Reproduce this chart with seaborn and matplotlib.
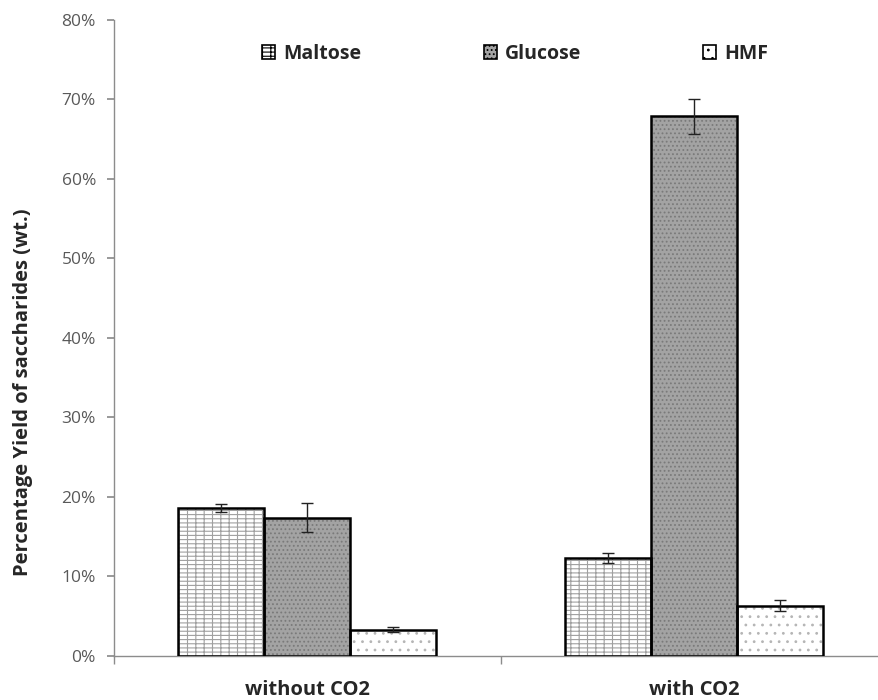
import matplotlib
matplotlib.use("Agg")
import matplotlib.pyplot as plt
import matplotlib.patches as mpatches
from matplotlib.ticker import PercentFormatter, FixedLocator
import seaborn as sns
import pandas as pd

# 데이터 (그림에서 읽은 값, %)
conditions = ["without CO2", "with CO2"]
products = ["Maltose", "Glucose", "HMF"]
maltose = [18.6, 12.3]
glucose = [17.4, 67.9]
hmf = [3.3, 6.3]
maltose_err = [0.55, 0.6]
glucose_err = [1.85, 2.2]
hmf_err = [0.3, 0.7]

# 막대 스타일 (face, hatch, hatch color)
styles = {
    "Maltose": ("white", "--++", "#a0a0a0"),
    "Glucose": ("#a3a3a3", "....", "#7a7a7a"),
    "HMF": ("white", "..", "#b5b5b5"),
}

sns.set_theme(style="white")
plt.rcParams['font.family'] = ['Open Sans', 'DejaVu Sans']
plt.rcParams['hatch.linewidth'] = 0.8

df = pd.DataFrame({
    "condition": conditions * 3,
    "product": [p for p in products for _ in conditions],
    "value": maltose + glucose + hmf,
    "err": maltose_err + glucose_err + hmf_err,
})

fig = plt.figure(figsize=(8.79, 7.0), dpi=100)
ax = fig.add_axes([0.1297, 0.0629, 0.8794, 0.9086])

sns.barplot(data=df, x="condition", y="value", hue="product", order=conditions,
            hue_order=products, width=0.668, gap=0, errorbar=None, legend=False, ax=ax)

handles = []
for cont, prod in zip(ax.containers, products):
    face, hatch, hcol = styles[prod]
    errs = df[df["product"] == prod].set_index("condition").loc[conditions, "err"].values
    for bar, e in zip(cont.patches, errs):
        bar.set_facecolor(face)
        bar.set_edgecolor(hcol)
        bar.set_hatch(hatch)
        bar.set_linewidth(0)
        ax.add_patch(mpatches.Rectangle(bar.get_xy(), bar.get_width(), bar.get_height(),
                                        fill=False, edgecolor="black", linewidth=1.8, zorder=3))
        cx = bar.get_x() + bar.get_width() / 2
        ax.errorbar(cx, bar.get_height(), yerr=e, color="#222222", elinewidth=1,
                    capsize=4, capthick=1, zorder=4)
    handles.append(mpatches.Patch(facecolor=face, edgecolor="black", hatch=hatch,
                                  linewidth=1.2, label=prod))

ax.set_ylim(0, 80)
ax.set_xlim(-0.5, 1.5)
ax.yaxis.set_major_locator(FixedLocator(range(0, 81, 10)))
ax.yaxis.set_major_formatter(PercentFormatter(decimals=0))
ax.xaxis.set_minor_locator(FixedLocator([-0.5, 0.5, 1.5]))

for side in ["top", "right"]:
    ax.spines[side].set_visible(False)
for side in ["left", "bottom"]:
    ax.spines[side].set_color("#8c8c8c")
    ax.spines[side].set_linewidth(1)

ax.tick_params(axis="y", which="major", left=True, length=5, color="#8c8c8c",
               labelsize=12.5, labelcolor="#595959", pad=8)
ax.tick_params(axis="x", which="major", bottom=False, labelsize=14.5, pad=11)
ax.tick_params(axis="x", which="minor", bottom=True, length=6, color="#8c8c8c")
for lbl in ax.get_xticklabels():
    lbl.set_fontweight("bold")

ax.set_xlabel("")
ax.set_ylabel("Percentage Yield of saccharides (wt.)", fontsize=14.5, fontweight="bold")
ax.yaxis.set_label_coords(-0.105, 0.415)

leg = ax.legend(handles=handles, loc="upper center", bbox_to_anchor=(0.519, 0.99), ncol=3,
                frameon=False, handlelength=0.67, handleheight=0.67, handletextpad=0.4,
                columnspacing=6.3, prop={"size": 14, "weight": "bold"})

fig.savefig("out.png", dpi=100)
